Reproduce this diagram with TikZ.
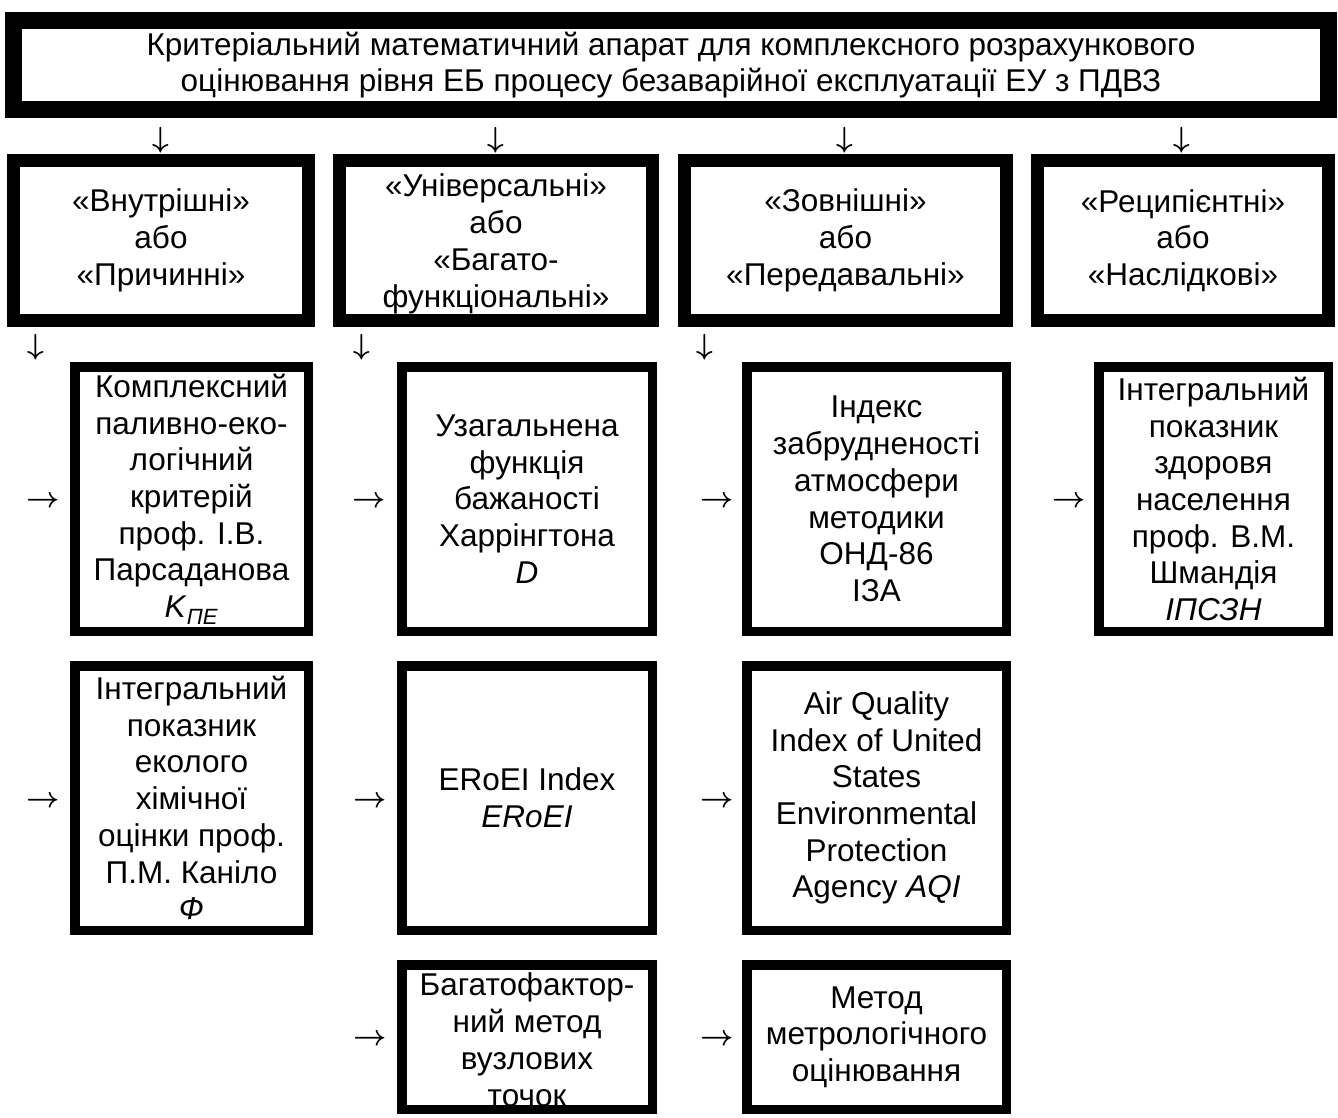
\documentclass[tikz,border=0pt]{standalone}
\usepackage{fontspec}
\setmainfont{Liberation Sans}
\tikzset{
  headbox/.style={draw, line width=17pt, inner sep=0pt, align=center,
    minimum width=1315pt, minimum height=89pt, font=\fontsize{31.5}{36.7}\selectfont},
  groupbox/.style={draw, line width=13pt, inner sep=0pt, align=center,
    minimum height=160pt, font=\fontsize{31.5}{36.7}\selectfont},
  critbox/.style={draw, line width=9.5pt, inner sep=0pt, align=center,
    minimum height=264.5pt, font=\fontsize{31.5}{36.7}\selectfont},
  sign/.style={inner sep=0pt, font=\normalsize}
}
\newcommand{\downsign}{\scalebox{2.9}{\boldmath$\downarrow$}}
\newcommand{\rightsign}{\scalebox{2.9}{\boldmath$\rightarrow$}}

\begin{document}
\begin{tikzpicture}[x=1pt, y=-1pt]
  %%%%% START %%%%%
  \useasboundingbox (0,0) rectangle (1338,1117);

  \node[headbox] (head) at (671,65) {Критеріальний математичний апарат для комплексного розрахункового\\оцінювання рівня ЕБ процесу безаварійної експлуатації ЕУ з ПДВЗ};

  \node[groupbox, minimum width=295pt] (causal) at (161,240.5) {«Внутрішні»\\або\\«Причинні»};
  \node[groupbox, minimum width=313pt, text height=133pt, text depth=0pt] (universal) at (496,240.5) {«Універсальні»\\або\\«Багато-\\функціональні»};
  \node[groupbox, minimum width=322pt] (transfer) at (845.5,240.5) {«Зовнішні»\\або\\«Передавальні»};
  \node[groupbox, minimum width=291pt] (recipient) at (1183,240.5) {«Реципієнтні»\\або\\«Наслідкові»};

  \node[sign] (dnA) at (161,140) {\downsign};
  \node[sign] (dnB) at (496,140) {\downsign};
  \node[sign] (dnC) at (845,140) {\downsign};
  \node[sign] (dnD) at (1182,140) {\downsign};

  \node[sign] (subA) at (36,347) {\downsign};
  \node[sign] (subB) at (362,347) {\downsign};
  \node[sign] (subC) at (705,347) {\downsign};

  % row 3
  \node[critbox, minimum width=233.5pt] (kpe) at (191.5,499) {Комплексний\\паливно-еко-\\логічний\\критерій\\проф. І.В.\\Парсаданова\\\textit{K}\textsubscript{\textit{ПЕ}}};
  \node[critbox, minimum width=250.5pt] (harr) at (527,499) {Узагальнена\\функція\\бажаності\\Харрінгтона\\\textit{D}};
  \node[critbox, minimum width=259.5pt] (iza) at (876.5,499) {Індекс\\забрудненості\\атмосфери\\методики\\ОНД-86\\ІЗА};
  \node[critbox, minimum width=229.5pt] (ipszn) at (1213.5,499) {Інтегральний\\показник\\здоровя\\населення\\проф. В.М.\\Шмандія\\\textit{ІПСЗН}};

  \node[sign] (toKpe) at (43,502) {\rightsign};
  \node[sign] (toHarr) at (369,502) {\rightsign};
  \node[sign] (toIza) at (717,502) {\rightsign};
  \node[sign] (toIpszn) at (1069,502) {\rightsign};

  % row 4
  \node[critbox, minimum width=233.5pt] (phi) at (191.5,798) {Інтегральний\\показник\\еколого\\хімічної\\оцінки проф.\\П.М. Каніло\\\textit{Ф}};
  \node[critbox, minimum width=250.5pt] (eroei) at (527,798) {ERoEI Index\\\textit{ERoEI}};
  \node[critbox, minimum width=259.5pt] (aqi) at (876.5,798) {Air Quality\\Index of United\\States\\Environmental\\Protection\\Agency \textit{AQI}};

  \node[sign] (toPhi) at (43,802) {\rightsign};
  \node[sign] (toEroei) at (370,802) {\rightsign};
  \node[sign] (toAqi) at (717,802) {\rightsign};

  % row 5
  \node[critbox, minimum width=250.5pt, minimum height=144.5pt, text height=138pt, text depth=0pt] (nodal) at (527,1037) {Багатофактор-\\ний метод\\вузлових\\точок};
  \node[critbox, minimum width=259.5pt, minimum height=144.5pt] (metro) at (876.5,1037) {Метод\\метрологічного\\оцінювання};

  \node[sign] (toNodal) at (370,1040) {\rightsign};
  \node[sign] (toMetro) at (717,1040) {\rightsign};
  %%%%% END %%%%%
\end{tikzpicture}
\end{document}
